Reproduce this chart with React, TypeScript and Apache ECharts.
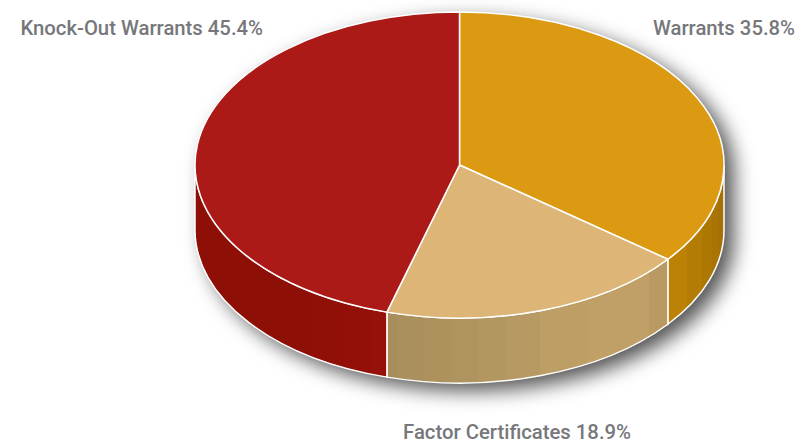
import React, { useEffect, useRef } from "react";
import * as echarts from "echarts";

const categories = ["Warrants", "Factor Certificates", "Knock-Out Warrants"];
const shares = [35.8, 18.9, 45.4];

const topColors = ["#DC9A12", "#DDB677", "#AB1A17"];
// Bands of the rim: [right edge x of the band, colour], read left to right.
const rimBands: [number, string][][] = [
  [[687, "#BB8205"], [702, "#B37C05"], [712, "#AD7704"], [719, "#A97404"], [725, "#A57104"]],
  [[398, "#A98E5C"], [425, "#AA905D"], [452, "#AD925E"], [478, "#B0945F"], [507, "#B39761"], [540, "#B79A63"], [588, "#BD9E65"], [649, "#C0A067"], [669, "#B99A62"]],
  [[312, "#8D0F06"], [343, "#900F07"], [372, "#931008"], [388, "#951109"]],
];

const labelAnchors: { x: number; y: number }[] = [
  { x: 795, y: 28 },
  { x: 631, y: 432 },
  { x: 263, y: 28 },
];

const CX = 459.5, CY = 165, RX = 264.5, RY = 153, DEPTH = 65;

const rad = (d: number) => (d * Math.PI) / 180;
const px = (t: number) => CX + RX * Math.sin(rad(t));
const py = (t: number) => CY - RY * Math.cos(rad(t));
const f = (n: number) => n.toFixed(2);

// The tilted disc of the reference runs slightly behind a plain ellipse.
const projected = (t: number) => t - 0.8 * Math.sin(rad(t / 2));

function angleRange(i: number): [number, number] {
  const total = shares.reduce((a, b) => a + b, 0);
  const before = shares.slice(0, i).reduce((a, b) => a + b, 0);
  return [projected((before / total) * 360), projected(((before + shares[i]) / total) * 360)];
}

function topPath(t0: number, t1: number) {
  const large = t1 - t0 > 180 ? 1 : 0;
  return `M${CX} ${CY}L${f(px(t0))} ${f(py(t0))}A${RX} ${RY} 0 ${large} 1 ${f(px(t1))} ${f(py(t1))}Z`;
}

function sidePath(t0: number, t1: number) {
  const a = Math.max(t0, 90), b = Math.min(t1, 270);
  if (b <= a) return null;
  return `M${f(px(a))} ${f(py(a))}A${RX} ${RY} 0 0 1 ${f(px(b))} ${f(py(b))}L${f(px(b))} ${f(py(b) + DEPTH)}A${RX} ${RY} 0 0 0 ${f(px(a))} ${f(py(a) + DEPTH)}Z`;
}

function bandFill(bands: [number, string][], x0: number, x1: number) {
  const stops: { offset: number; color: string }[] = [];
  let prev = 0;
  bands.forEach(([edge, color]) => {
    const o = Math.min(1, Math.max(0, (edge - x0) / (x1 - x0)));
    stops.push({ offset: prev, color }, { offset: o, color });
    prev = o;
  });
  return new echarts.graphic.LinearGradient(x0, 0, x1, 0, stops, true);
}

export default function App() {
  const ref = useRef<HTMLDivElement>(null);
  useEffect(() => {
    document.body.style.margin = "0";
    const chart = echarts.init(ref.current!, undefined, { renderer: "svg" });
    const silhouette = `M${f(px(270))} ${f(py(270))}A${RX} ${RY} 0 0 1 ${f(px(90))} ${f(py(90))}L${f(px(90))} ${f(py(90) + DEPTH)}A${RX} ${RY} 0 0 1 ${f(px(270))} ${f(py(270) + DEPTH)}Z`;
    chart.setOption({
      animation: false,
      backgroundColor: "#ffffff",
      series: [
        {
          type: "custom",
          coordinateSystem: "none",
          silent: true,
          z: 1,
          data: [1],
          renderItem: () => ({
            type: "path",
            shape: { pathData: silhouette },
            style: {
              fill: "#8a8a8a",
              shadowColor: "rgba(0,0,0,0.68)",
              shadowBlur: 20,
              shadowOffsetX: 10,
              shadowOffsetY: 8,
            },
          }),
        },
        {
          type: "custom",
          coordinateSystem: "none",
          silent: true,
          z: 2,
          data: shares.map((v, i) => ({ name: categories[i], value: v })),
          renderItem: (params: any) => {
            const i = params.dataIndex;
            const [t0, t1] = angleRange(i);
            const children: any[] = [];
            const side = sidePath(t0, t1);
            if (side) {
              const a = Math.max(t0, 90), b = Math.min(t1, 270);
              const xs = [];
              for (let t = a; t <= b; t += 1) xs.push(px(t));
              xs.push(px(b));
              children.push({
                type: "path",
                shape: { pathData: side },
                style: {
                  fill: bandFill(rimBands[i], Math.min(...xs), Math.max(...xs)),
                  stroke: "#ffffff",
                  lineWidth: 1.5,
                },
              });
            }
            children.push({
              type: "path",
              shape: { pathData: topPath(t0, t1) },
              style: { fill: topColors[i], stroke: "#ffffff", lineWidth: 1.5, lineJoin: "round" },
            });
            children.push({
              type: "text",
              style: {
                text: `${categories[i]} ${shares[i]}%`,
                x: labelAnchors[i].x,
                y: labelAnchors[i].y,
                align: "right",
                verticalAlign: "middle",
                fontFamily: "Roboto",
                fontSize: 20.3,
                fontWeight: 500,
                fill: "#76777B",
              },
            });
            return { type: "group", children };
          },
        },
      ],
    });
    return () => chart.dispose();
  }, []);
  return <div ref={ref} style={{ position: "absolute", left: 0, top: 0, width: 798, height: 444 }} />;
}
